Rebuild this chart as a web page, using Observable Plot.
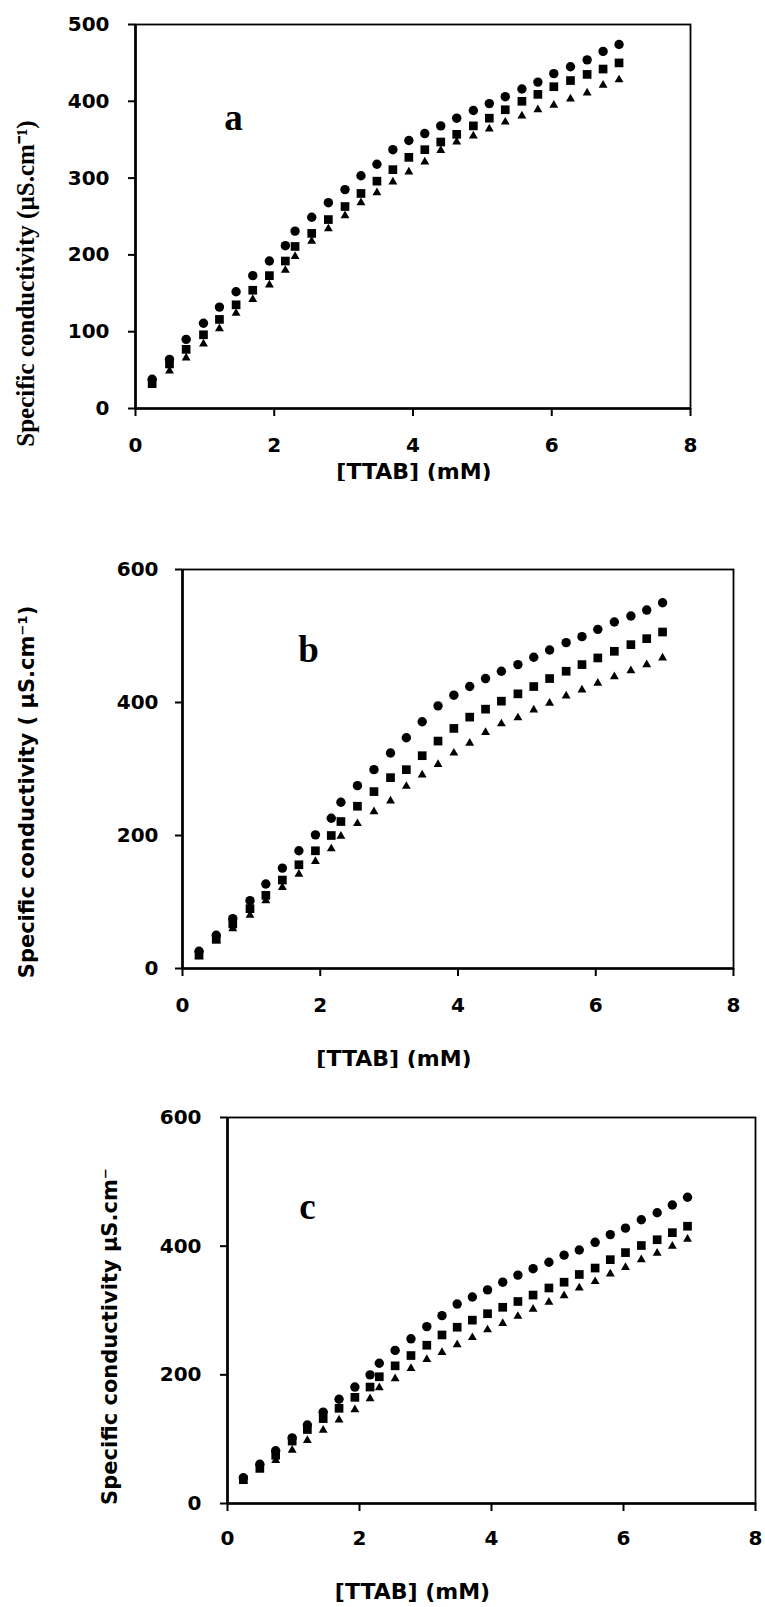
<!DOCTYPE html>
<html><head><meta charset="utf-8">
<script src="https://cdn.jsdelivr.net/npm/d3@7"></script>
<script src="https://cdn.jsdelivr.net/npm/@observablehq/plot@0.6"></script>
<style>
html,body{margin:0;padding:0;background:#fff;}
#root{width:765px;}
#root svg{display:block;overflow:hidden;}
</style></head><body><div id="root"></div>
<script>
// [TTAB] (mM) – shared concentrations
const ttab = [0.24, 0.49, 0.73, 0.98, 1.21, 1.45, 1.69, 1.93, 2.16, 2.30, 2.54, 2.78, 3.02, 3.25, 3.48, 3.71, 3.94, 4.17, 4.40, 4.63, 4.87, 5.10, 5.33, 5.57, 5.80, 6.03, 6.27, 6.51, 6.74, 6.97];

// panel a
const aCircle   = [38, 64, 90, 111, 132, 152, 173, 192, 212, 231, 249, 268, 285, 303, 318, 337, 349, 358, 368, 378, 388, 397, 406, 416, 425, 436, 445, 454, 465, 474];
const aSquare   = [33, 58, 77, 96, 116, 135, 154, 173, 192, 211, 228, 246, 263, 280, 296, 311, 327, 337, 347, 357, 368, 378, 389, 400, 409, 419, 427, 435, 442, 450];
const aTriangle = [30, 49, 66, 84, 104, 124, 142, 161, 180, 198, 218, 234, 251, 268, 281, 295, 308, 321, 336, 347, 355, 364, 373, 381, 389, 395, 403, 411, 421, 428];

// panel b
const bCircle   = [26, 50, 75, 102, 127, 151, 177, 201, 226, 250, 275, 299, 324, 347, 371, 395, 411, 424, 436, 447, 457, 468, 479, 490, 499, 510, 521, 530, 539, 550];
const bSquare   = [20, 44, 67, 90, 110, 133, 156, 177, 200, 221, 244, 266, 287, 299, 320, 342, 361, 378, 390, 402, 413, 424, 436, 447, 457, 467, 477, 487, 496, 506];
const bTriangle = [18, 42, 60, 80, 102, 122, 142, 161, 180, 199, 218, 236, 252, 274, 291, 307, 324, 339, 355, 368, 377, 389, 399, 410, 419, 429, 439, 448, 457, 467];

// panel c
const cCircle   = [40, 61, 82, 102, 122, 142, 162, 181, 200, 218, 238, 256, 275, 292, 310, 321, 332, 344, 355, 365, 375, 386, 394, 406, 418, 428, 441, 452, 464, 476];
const cSquare   = [37, 55, 75, 97, 115, 132, 148, 165, 181, 197, 214, 230, 246, 262, 274, 285, 295, 305, 314, 324, 335, 344, 356, 366, 379, 390, 401, 410, 421, 431];
const cTriangle = [35, 52, 67, 83, 98, 114, 130, 146, 163, 180, 194, 210, 224, 235, 247, 258, 270, 280, 291, 302, 313, 323, 335, 345, 357, 367, 379, 389, 400, 411];

const xTicks = [0, 2, 4, 6, 8];
const yTicksA = [0, 100, 200, 300, 400, 500];
const yTicksBC = [0, 200, 400, 600];
const xTitle = "[TTAB] (mM)";
const yTitleA = "Specific conductivity (µS.cm⁻¹)";
const yTitleB = "Specific conductivity ( µS.cm⁻¹)";
const yTitleC = "Specific conductivity µS.cm⁻";
const panelLetters = ["a", "b", "c"];

const SANS = "DejaVu Sans";
const SERIF = "Liberation Serif, Times New Roman, serif";

function rows(c, s, t) {
  return ttab.map((x, i) => ({x, circle: c[i], square: s[i], triangle: t[i]}));
}

function panel(cfg) {
  const data = rows(cfg.c, cfg.s, cfg.t);
  return Plot.plot({
    width: 765,
    height: cfg.height,
    marginTop: cfg.mt, marginBottom: cfg.mb, marginLeft: cfg.ml, marginRight: cfg.mr,
    style: {fontFamily: SANS, fontSize: "20px", fontWeight: "bold", color: "black", background: "white", overflow: "hidden"},
    x: {domain: [xTicks[0], xTicks[xTicks.length - 1]]},
    y: {domain: [cfg.yTicks[0], cfg.yTicks[cfg.yTicks.length - 1]]},
    marks: [
      Plot.frame({stroke: "black", strokeWidth: 1.8}),
      Plot.ruleX([xTicks[0]], {stroke: "black", strokeWidth: 2.6}),
      Plot.ruleY([cfg.yTicks[0]], {stroke: "black", strokeWidth: 2.6}),
      Plot.axisX({ticks: xTicks, tickSize: 8, tickPadding: cfg.xpad, strokeWidth: 2, label: null,
        fontSize: 20, fontWeight: "bold", fontFamily: SANS, fill: "black", tickFormat: d => String(d)}),
      Plot.axisY({ticks: cfg.yTicks, tickSize: 7, tickPadding: cfg.ypad, strokeWidth: 2, label: null,
        fontSize: 20, fontWeight: "bold", fontFamily: SANS, fill: "black", tickFormat: d => String(d)}),
      Plot.dot(data, {x: "x", y: "triangle", symbol: "triangle", r: 3.3, fill: "black", stroke: "none"}),
      Plot.dot(data, {x: "x", y: "square", symbol: "square", r: 4.9, fill: "black", stroke: "none"}),
      Plot.dot(data, {x: "x", y: "circle", symbol: "circle", r: 4.7, fill: "black", stroke: "none"}),
      Plot.text([xTitle], {text: d => d, frameAnchor: "bottom", dx: cfg.xtdx, dy: cfg.xtdy, lineAnchor: "top",
        textAnchor: "middle", fontSize: 22, fontWeight: "bold", fontFamily: SANS, fill: "black"}),
      Plot.text([cfg.yTitle], {text: d => d, frameAnchor: "left", dx: cfg.ytdx, dy: cfg.ytdy, rotate: -90,
        textAnchor: "middle", lineAnchor: "middle", fontSize: cfg.ytSize, fontWeight: "bold",
        fontFamily: cfg.ytFont, fill: "black"}),
      Plot.text([cfg.letter], {text: d => d, frameAnchor: "top-left", dx: cfg.ldx, dy: cfg.ldy,
        textAnchor: "middle", lineAnchor: "middle", fontSize: 37, fontWeight: "bold", fontFamily: SERIF, fill: "black"})
    ]
  });
}

const root = document.getElementById("root");
root.append(panel({
  c: aCircle, s: aSquare, t: aTriangle, yTicks: yTicksA,
  height: 481, mt: 24, mb: 73, ml: 135, mr: 75, xpad: 21, ypad: 19,
  xtdx: 1, xtdy: 55, yTitle: yTitleA, ytdx: -110, ytdy: 67, ytSize: 25, ytFont: SERIF,
  letter: panelLetters[0], ldx: 98, ldy: 94
}));
root.append(panel({
  c: bCircle, s: bSquare, t: bTriangle, yTicks: yTicksBC,
  height: 587, mt: 88, mb: 100, ml: 182, mr: 32, xpad: 21, ypad: 17,
  xtdx: -64, xtdy: 82, yTitle: yTitleB, ytdx: -155, ytdy: 23, ytSize: 21, ytFont: SANS,
  letter: panelLetters[1], ldx: 126, ldy: 81
}));
root.append(panel({
  c: cCircle, s: cSquare, t: cTriangle, yTicks: yTicksBC,
  height: 539, mt: 49, mb: 104, ml: 227, mr: 10, xpad: 19, ypad: 19,
  xtdx: -79, xtdy: 80, yTitle: yTitleC, ytdx: -117, ytdy: 26, ytSize: 21, ytFont: SANS,
  letter: panelLetters[2], ldx: 80, ldy: 90
}));
</script>
</body></html>
